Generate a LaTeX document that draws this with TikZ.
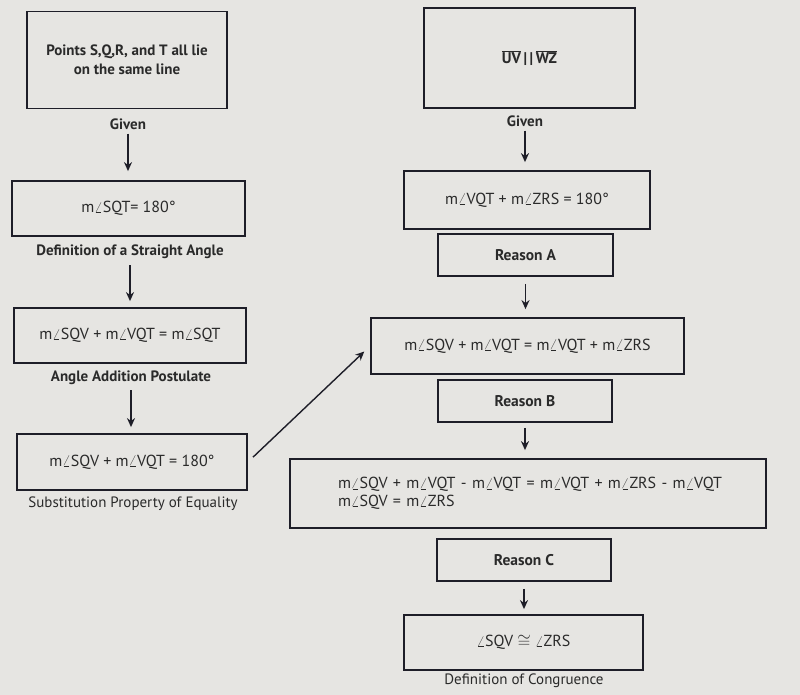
\documentclass[tikz,border=0pt]{standalone}
\usepackage{fontspec}
\setmainfont{PT Sans}
\usetikzlibrary{arrows.meta}
\definecolor{bg}{HTML}{E6E5E2}
\definecolor{ink}{HTML}{1E1E28}
\definecolor{txt}{HTML}{2A2A2A}
\newcommand{\ma}{m$\angle$}
\begin{document}
\begin{tikzpicture}[x=1pt,y=-1pt,
  box/.style={draw=ink, line width=1.8pt, fill=bg, text=txt, inner sep=0pt, align=center, font=\fontsize{16}{19}\selectfont},
  lbl/.style={text=txt, inner sep=1pt, align=center, font=\fontsize{15}{18}\selectfont},
  blbl/.style={lbl, font=\fontsize{15}{18}\selectfont\bfseries},
  rbox/.style={box, minimum height=42pt, font=\fontsize{15.5}{18}\selectfont\bfseries},
  arr/.style={draw=ink, line width=1.4pt, -{Stealth[length=9pt,width=8pt]}}]
\fill[bg] (0,0) rectangle (800,695);
\useasboundingbox (0,0) rectangle (800,695);
% left column
\node[box, minimum width=200pt, minimum height=97pt, font=\fontsize{15}{19}\selectfont\bfseries] (n1) at (127,60) {Points S,Q,R, and T all lie\\on the same line};
\node[blbl] (g1) at (128,124) {Given};
\node[box, minimum width=233pt, minimum height=55pt] (n2) at (128.5,208.5) {\ma SQT= 180°};
\node[blbl] (d1) at (130,252) {Definition of a Straight Angle};
\node[box, minimum width=232pt, minimum height=55pt] (n3) at (130,335.5) {\ma SQV + \ma VQT = \ma SQT};
\node[blbl] (l3) at (131,378) {Angle Addition Postulate};
\node[box, minimum width=230pt, minimum height=56pt] (n4) at (132,462) {\ma SQV + \ma VQT = 180°};
\node[lbl] (l4) at (133,504) {Substitution Property of Equality};
% right column
\node[box, minimum width=211pt, minimum height=100pt, font=\fontsize{15.5}{18}\selectfont\bfseries] (n5) at (529.5,58) {$\overline{\mbox{UV}}$\,|\,|\,$\overline{\mbox{WZ}}$};
\node[blbl] (g2) at (525,121) {Given};
\node[box, minimum width=246pt, minimum height=58pt] (n6) at (527,200) {\ma VQT + \ma ZRS = 180°};
\node[rbox, minimum width=175pt] (n7) at (525.5,255) {Reason A};
\node[box, minimum width=313pt, minimum height=56pt] (n8) at (527.5,346) {\ma SQV + \ma VQT = \ma VQT + \ma ZRS};
\node[rbox, minimum width=174pt] (n9) at (525,401) {Reason B};
\node[box, minimum width=476pt, minimum height=69pt, text width=420pt, align=left, inner xsep=28pt, font=\fontsize{16}{17.5}\selectfont] (n10) at (528,493.5) {\hspace*{20pt}\ma SQV + \ma VQT - \ma VQT = \ma VQT + \ma ZRS - \ma VQT\\\hspace*{20pt}\ma SQV = \ma ZRS};
\node[rbox, minimum width=174pt] (n11) at (524,560) {Reason C};
\node[box, minimum width=239pt, minimum height=55pt] (n12) at (523.5,642.5) {$\angle$SQV $\cong$ $\angle$ZRS};
\node[lbl] (l12) at (524,681) {Definition of Congruence};
% connectors
\draw[arr, shorten <=3pt, shorten >=9pt] (g1.south) -- (g1.south |- n2.north);
\draw[arr, shorten <=5pt, shorten >=6pt] (d1.south) -- (d1.south |- n3.north);
\draw[arr, shorten <=4pt, shorten >=6pt] (l3.south) -- (l3.south |- n4.north);
\draw[arr, shorten <=3pt, shorten >=8pt] (g2.south) -- (g2.south |- n6.north);
\draw[arr, shorten <=7pt, shorten >=8pt] (n7.south) -- (n7.south |- n8.north);
\draw[arr, shorten <=5pt, shorten >=8pt] (n9.south) -- (n9.south |- n10.north);
\draw[arr, shorten <=7pt, shorten >=5pt] (n11.south) -- (n11.south |- n12.north);
\draw[arr, shorten <=7pt, shorten >=8pt] (n4.east) -- (n8.west);
\end{tikzpicture}
\end{document}
